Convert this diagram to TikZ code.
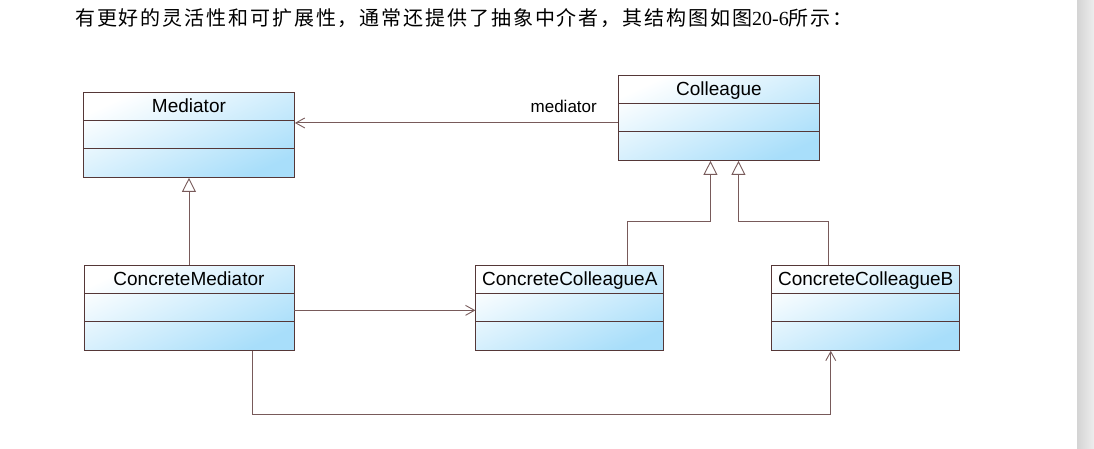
\documentclass[tikz,border=0pt]{standalone}
\usepackage{fontspec}
\setmainfont{Liberation Sans}
\newfontfamily\cjk[LetterSpace=9.5]{Noto Sans CJK SC}
\newfontfamily\numfont{Liberation Serif}
\usetikzlibrary{positioning, arrows.meta}
\definecolor{umlblue}{RGB}{168,222,250}
\definecolor{umlline}{RGB}{85,55,55}
\definecolor{linkline}{RGB}{120,90,90}
\tikzset{
    umlclass/.style={draw=umlline, line width=0.9pt, top color=white, bottom color=umlblue,
        shading angle=25, inner sep=0pt, minimum height=85pt, text height=20pt, text depth=65pt,
        font=\fontsize{19}{22}\selectfont,
        path picture={\draw[umlline, line width=0.9pt]
            ([yshift=-28pt]path picture bounding box.north west) -- ([yshift=-28pt]path picture bounding box.north east)
            ([yshift=-56pt]path picture bounding box.north west) -- ([yshift=-56pt]path picture bounding box.north east);}},
    assoc/.style={draw=linkline, line width=0.9pt, -{Straight Barb[length=9pt, width=10pt]}},
    gen/.style={draw=linkline, line width=0.9pt, -{Triangle[open, length=14pt, width=14pt]}},
    rolelabel/.style={font=\fontsize{17}{20}\selectfont, inner sep=0pt}
}
\begin{document}
\begin{tikzpicture}[x=1pt, y=-1pt]
    \useasboundingbox (0,0) rectangle (1094,449);
    \shade[left color=black!17, right color=black!7] (1077,0) rectangle (1094,449);

    % Text
    \node[anchor=west, inner sep=0pt, font=\fontsize{20}{24}\selectfont] (intro) at (75,18)
        {\cjk 有更好的灵活性和可扩展性，通常还提供了抽象中介者，其结构图如图{\numfont 20-6}所示：};

    % Nodes
    \node[umlclass, minimum width=211pt, anchor=north west] (med) at (83,92) {Mediator};
    \node[umlclass, minimum width=201pt, anchor=north west] (col) at (618,75) {Colleague};
    \node[umlclass, minimum width=210pt, below=87pt of med] (cmed) {ConcreteMediator};
    \node[umlclass, minimum width=188pt, right=181pt of cmed] (cA) {ConcreteColleagueA};
    \node[umlclass, minimum width=188pt, right=107pt of cA] (cB) {ConcreteColleagueB};
    \node[rolelabel, anchor=east] (role) at ([xshift=-21pt, yshift=11.5pt]col.west) {mediator};

    % Paths
    \draw[assoc] ([yshift=-5pt]col.west) -- ([yshift=-5pt]col.west -| med.east);
    \draw[gen] (cmed.north) -- (med.south);
    \draw[gen] ([xshift=58pt]cA.north) |- ([xshift=-8.5pt, yshift=-61pt]col.south) -- ([xshift=-8.5pt]col.south);
    \draw[gen] ([xshift=-37pt]cB.north) |- ([xshift=19.5pt, yshift=-61pt]col.south) -- ([xshift=19.5pt]col.south);
    \draw[assoc] ([yshift=-2.5pt]cmed.east) -- ([yshift=-2.5pt]cmed.east -| cA.west);
    \draw[assoc] ([xshift=63pt]cmed.south) -- ++(0,64) -| ([xshift=-35pt]cB.south);
\end{tikzpicture}
\end{document}
